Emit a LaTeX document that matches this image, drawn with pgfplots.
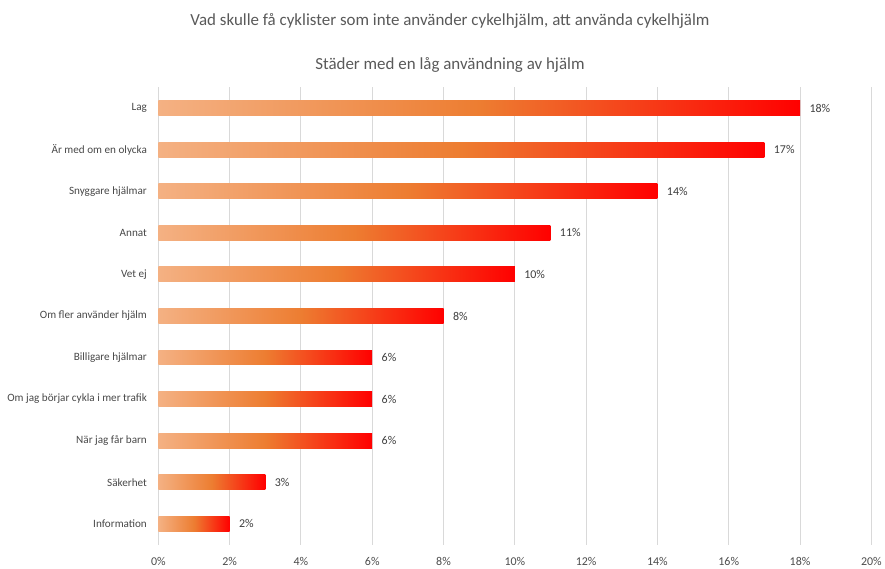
\documentclass[border=0pt]{standalone}
\usepackage{pgfplots}
\pgfplotsset{compat=1.18}
\usepackage{fontspec}
\setmainfont{Carlito}
\definecolor{barlight}{HTML}{F4B183}
\definecolor{barmid}{HTML}{ED7D31}
\definecolor{barred}{HTML}{FF0000}
\definecolor{txt}{HTML}{595959}
\definecolor{gridc}{HTML}{D9D9D9}
\pgfplotsset{
  gradbar/.style={xbar, bar width=15pt, bar shift=0pt, draw=none,
    left color=barlight, right color=barred, middle color=barmid},
}
\begin{document}
\begin{tikzpicture}
\begin{axis}[
  scale only axis,
  width=716pt, height=459pt,
  xmin=0, xmax=20,
  ymin=-0.5, ymax=10.5,
  y dir=reverse,
  ytick={0,...,10},
  yticklabels={Lag, Är med om en olycka, Snyggare hjälmar, Annat, Vet ej,
    Om fler använder hjälm, Billigare hjälmar, Om jag börjar cykla i mer trafik,
    När jag får barn, Säkerhet, Information},
  xtick={0,2,...,20},
  xticklabel={\pgfmathprintnumber{\tick}\%},
  /pgf/number format/assume math mode=true,
  axis line style={draw=none},
  major tick length=0pt,
  xmajorgrids,
  grid style={gridc, line width=0.9pt},
  yticklabel style={font=\fontsize{11.2}{13}\selectfont, text=txt!80!black, xshift=-8pt},
  xticklabel style={font=\fontsize{12}{14}\selectfont, text=txt!85!black, yshift=-9pt},
  title={\rule{0pt}{22pt}Vad skulle få cyklister som inte använder cykelhjälm, att använda cykelhjälm\\[24pt]Städer med en låg användning av hjälm},
  title style={align=center, font=\fontsize{17}{20}\selectfont, text=txt,
    at={(0.409,1)}, anchor=south, yshift=6pt},
]
\addplot[gradbar] coordinates {(18,0)};
\addplot[gradbar] coordinates {(17,1)};
\addplot[gradbar] coordinates {(14,2)};
\addplot[gradbar] coordinates {(11,3)};
\addplot[gradbar] coordinates {(10,4)};
\addplot[gradbar] coordinates {(8,5)};
\addplot[gradbar] coordinates {(6,6)};
\addplot[gradbar] coordinates {(6,7)};
\addplot[gradbar] coordinates {(6,8)};
\addplot[gradbar] coordinates {(3,9)};
\addplot[gradbar] coordinates {(2,10)};
\addplot[draw=none, mark=none,
  nodes near coords={\pgfmathprintnumber{\pgfplotspointmeta}\%},
  point meta=x,
  nodes near coords style={anchor=west, xshift=6pt, text=txt!70!black,
    font=\fontsize{12}{14}\selectfont}]
  coordinates {(18,0) (17,1) (14,2) (11,3) (10,4) (8,5) (6,6) (6,7) (6,8) (3,9) (2,10)};
\end{axis}
% left margin as in the reference
\path (current axis.south west) ++(-159pt,0pt);
\end{tikzpicture}
\end{document}
